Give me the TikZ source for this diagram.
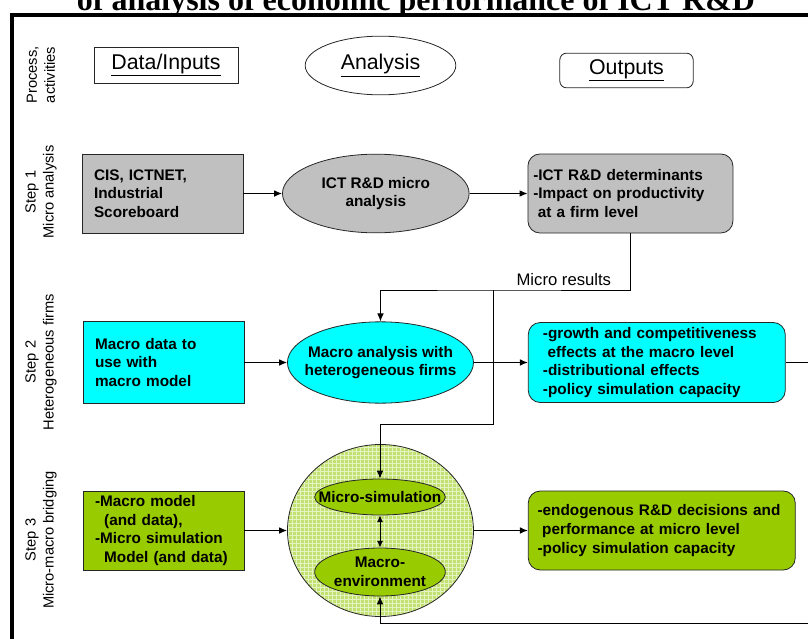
\documentclass[tikz,border=0pt]{standalone}
\usepackage{fontspec}
\setmainfont{Liberation Sans}
\newfontfamily\titlefont{Liberation Serif}
\usetikzlibrary{arrows.meta, positioning, shapes.geometric, patterns}
\definecolor{boxgray}{HTML}{C0C0C0}
\definecolor{boxcyan}{HTML}{00FFFF}
\definecolor{boxgreen}{HTML}{99CC00}
\definecolor{bridgegreen}{HTML}{C2E170}
\definecolor{gridgreen}{HTML}{E4F3C4}
\tikzstyle{block} = [draw=black!85, line width=0.6pt, font=\fontsize{11.5}{14}\selectfont\bfseries]
\tikzstyle{inbox} = [block, rectangle, text width=102.75pt, inner xsep=9pt, align=left, minimum height=59.25pt]
\tikzstyle{outbox} = [block, rectangle, rounded corners=9pt, align=left, minimum height=59.25pt]
\tikzstyle{oval} = [block, ellipse, align=center, inner xsep=-12pt, inner ysep=0pt]
\tikzstyle{head} = [draw=black!85, line width=0.6pt, font=\fontsize{16}{19}\selectfont]
\tikzstyle{rowlabel} = [rotate=90, align=center, font=\fontsize{11}{13.5}\selectfont]
\tikzstyle{note} = [font=\fontsize{12.5}{15}\selectfont]
\tikzstyle{link} = [-{Latex[length=6pt, width=5pt]}, line width=0.75pt]

\begin{document}
\begin{tikzpicture}[x=0.75pt, y=-0.75pt]
    \useasboundingbox (0,0) rectangle (808,639);

    % Frame and title.
    \draw [line width=3.6pt] (12,700) |- (900,15);
    \node (title) [anchor=base, font=\titlefont\fontsize{24}{28}\selectfont\bfseries] at (416,10.5) {of analysis of economic performance of ICT R\&D};

    % Row labels.
    \foreach \i/\y/\t in {0/75/{Process,\\activities}, 1/192/{Step 1\\Micro analysis}, 2/362/{Step 2\\Heterogeneous firms}, 3/540/{Step 3\\Micro-macro bridging}} {
        \node (step\i) [rowlabel] at (41,\y) {\t};
    }

    % Headers.
    \node (data0) [head, rectangle, minimum width=108pt, minimum height=27pt] at (166,65) {\underline{Data/Inputs}};
    \node (analysis0) [head, ellipse, minimum width=113pt, minimum height=44pt, inner sep=0pt] at (380.5,65.5) {\underline{Analysis}};
    \node (output0) [head, rectangle, rounded corners=5pt, minimum width=100pt, minimum height=26pt] at (626.5,70.5) {\underline{Outputs}};

    % Step 1.
    \node (data1) [inbox, fill=boxgray] at (162.5,193.5) {CIS, ICTNET,\\Industrial\\Scoreboard};
    \node (analysis1) [oval, fill=boxgray, minimum width=140pt, minimum height=59pt, right=29pt of data1] {ICT R\&D micro\\analysis};
    \node (output1) [outbox, fill=boxgray, text width=145.75pt, inner xsep=4pt, right=43.5pt of analysis1] {-ICT R\&D determinants\\-Impact on productivity\\\hspace*{0.3em}at a firm level};

    % Step 2.
    \node (data2) [inbox, fill=boxcyan, minimum height=61pt] at (163.5,362.5) {Macro data to\\use with\\macro model};
    \node (analysis2) [oval, fill=boxcyan, minimum width=139.5pt, minimum height=61pt, right=32pt of data2] {Macro analysis with\\heterogeneous firms};
    \node (output2) [outbox, fill=boxcyan, minimum height=60pt, text width=170.75pt, inner xsep=11pt, right=40.5pt of analysis2] {-growth and competitiveness\\\hspace*{0.3em}effects at the macro level\\-distributional effects\\-policy simulation capacity};

    % Step 3.
    \node (data3) [inbox, fill=boxgreen] at (163.5,530.5) {-Macro model\\\hspace*{0.6em}(and data),\\-Micro simulation\\\hspace*{0.6em}Model (and data)};
    \node (analysis3) [oval, preaction={fill=bridgegreen}, pattern=grid, pattern color=gridgreen, minimum width=139.5pt, minimum height=129pt, right=32pt of data3] {};
    \node (microsim) [oval, fill=boxgreen, minimum width=98pt, minimum height=27pt] at (380,497) {Micro-simulation};
    \node (macroenv) [oval, fill=boxgreen, minimum width=98pt, minimum height=36pt] at (380,572) {Macro-\\environment};
    \node (output3) [outbox, fill=boxgreen, text width=186.25pt, inner xsep=7pt, right=40.5pt of analysis3] {-endogenous R\&D decisions and\\\hspace*{0.3em}performance at micro level\\-policy simulation capacity};

    % Arrows.
    \foreach \i in {1,2,3} {
        \draw [link] (data\i) -- (analysis\i);
        \draw [link] (analysis\i) -- (output\i);
    }
    \draw [link, {Latex[length=5pt, width=4.5pt]}-{Latex[length=5pt, width=4.5pt]}] (microsim) -- (macroenv);

    % Micro results and feedback.
    \coordinate (branch) at (493,290);
    \coordinate (drop) at (493,424);
    \coordinate (loop) at (840,623);
    \coordinate (turn) at (output1.south |- branch);
    \draw [link] (output1.south) |- (branch) -| (analysis2.north);
    \node (microresults) [note, above left=0pt and 11pt of turn] {Micro results};
    \draw [link] (branch) -- (drop) -| (microsim.north);
    \draw [link] (output2.east) -| (loop) -| (macroenv.south);
\end{tikzpicture}
\end{document}
